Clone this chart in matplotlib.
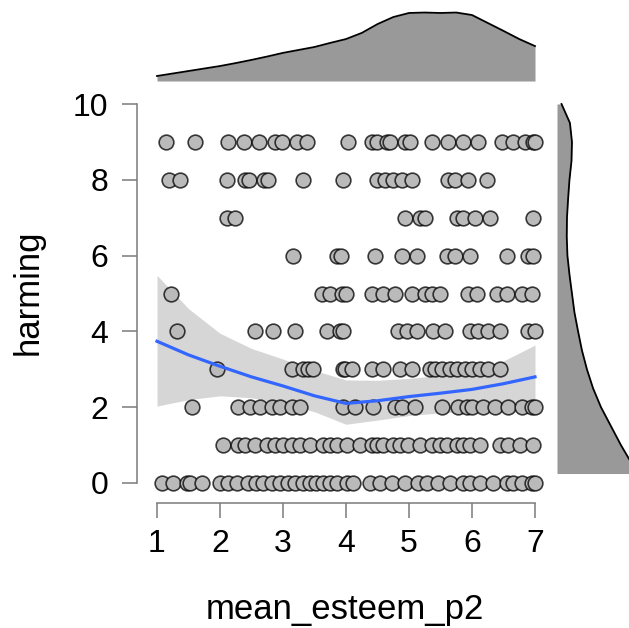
import matplotlib
matplotlib.use("Agg")
import matplotlib.pyplot as plt
import numpy as np

# mean_esteem_p2 values for each level of harming
esteem_h0 = [1.08, 1.25, 1.48, 1.52, 1.71, 2.00, 2.13, 2.27, 2.44, 2.57, 2.68, 2.83,
             2.95, 3.08, 3.19, 3.32, 3.43, 3.52, 3.63, 3.75, 3.86, 4.02, 4.11, 4.38,
             4.54, 4.73, 4.94, 5.14, 5.29, 5.46, 5.65, 5.86, 5.97, 6.13, 6.33, 6.56,
             6.65, 6.79, 6.95, 7.00]
esteem_h1 = [2.05, 2.29, 2.40, 2.56, 2.75, 2.87, 3.00, 3.14, 3.27, 3.43, 3.63, 3.75,
             3.86, 4.02, 4.22, 4.41, 4.49, 4.59, 4.75, 4.86, 4.98, 5.17, 5.37, 5.49,
             5.60, 5.76, 5.86, 5.97, 6.13, 6.44, 6.57, 6.76, 6.97]
esteem_h2 = [1.56, 2.29, 2.48, 2.63, 2.83, 2.95, 3.14, 3.27, 3.95, 4.14, 4.43, 4.78,
             4.89, 5.10, 5.52, 5.78, 5.92, 6.00, 6.17, 6.37, 6.57, 6.79, 6.95, 7.00]
esteem_h3 = [1.95, 3.14, 3.32, 3.40, 3.48, 3.95, 3.98, 4.10, 4.41, 4.59, 4.86, 5.05,
             5.33, 5.41, 5.52, 5.65, 5.76, 5.89, 6.00, 6.13, 6.25, 6.44]
esteem_h4 = [1.32, 2.56, 2.84, 3.19, 3.70, 3.90, 3.95, 4.83, 4.97, 5.13, 5.38, 5.57,
             5.97, 6.10, 6.25, 6.44, 6.89, 7.00]
esteem_h5 = [1.22, 3.62, 3.75, 3.94, 4.00, 4.41, 4.59, 4.78, 5.05, 5.25, 5.37, 5.49,
             5.94, 6.08, 6.40, 6.56, 6.79, 6.95]
esteem_h6 = [3.16, 3.86, 3.92, 4.46, 4.89, 5.13, 5.60, 5.73, 5.97, 6.56, 6.89, 6.97]
esteem_h7 = [2.11, 2.24, 4.94, 5.17, 5.25, 5.76, 5.86, 6.05, 6.29, 6.97]
esteem_h8 = [1.19, 1.37, 2.11, 2.40, 2.46, 2.70, 2.76, 3.32, 3.95, 4.49, 4.62, 4.75,
             4.89, 5.05, 5.62, 5.73, 5.94, 6.24]
esteem_h9 = [1.14, 1.60, 2.13, 2.38, 2.62, 2.87, 2.98, 3.22, 3.38, 4.03, 4.41, 4.49,
             4.65, 4.70, 4.94, 5.02, 5.37, 5.62, 5.86, 6.10, 6.48, 6.65, 6.84, 6.97, 7.00]
harming_levels = [0, 1, 2, 3, 4, 5, 6, 7, 8, 9]

# smoother and its confidence band
smooth_x = [1.0, 1.5, 2.0, 2.5, 3.0, 3.5, 4.0, 4.5, 5.0, 5.5, 6.0, 6.5, 7.0]
smooth_y = [3.74, 3.38, 3.08, 2.80, 2.56, 2.30, 2.10, 2.17, 2.28, 2.37, 2.47, 2.62, 2.80]
smooth_hi = [5.48, 4.60, 3.95, 3.55, 3.27, 2.97, 2.72, 2.71, 2.76, 2.84, 2.96, 3.22, 3.64]
smooth_lo = [2.03, 2.20, 2.30, 2.25, 2.10, 1.88, 1.55, 1.66, 1.78, 1.85, 1.90, 1.92, 1.95]

# marginal densities
dens_x_grid = [1.0, 1.25, 1.5, 1.75, 2.0, 2.25, 2.5, 2.75, 3.0, 3.25, 3.5, 3.75, 4.0,
               4.25, 4.5, 4.75, 5.0, 5.25, 5.5, 5.75, 6.0, 6.25, 6.5, 6.75, 7.0]
dens_x = [0.022, 0.033, 0.044, 0.055, 0.066, 0.079, 0.093, 0.108, 0.124, 0.137, 0.150,
          0.168, 0.185, 0.212, 0.251, 0.282, 0.300, 0.302, 0.300, 0.302, 0.291, 0.256,
          0.221, 0.185, 0.154]
dens_y_grid = [10, 9.5, 9, 8.5, 8, 7.5, 7, 6.5, 6, 5.5, 5, 4.5, 4, 3.5, 3, 2.5, 2,
               1.5, 1, 0.5, 0.25]
dens_y = [0.020, 0.057, 0.066, 0.064, 0.055, 0.049, 0.044, 0.043, 0.046, 0.055, 0.066,
          0.077, 0.093, 0.110, 0.132, 0.159, 0.194, 0.238, 0.282, 0.331, 0.353]

all_rows = [esteem_h0, esteem_h1, esteem_h2, esteem_h3, esteem_h4,
            esteem_h5, esteem_h6, esteem_h7, esteem_h8, esteem_h9]
pts_x = np.concatenate([np.array(r) for r in all_rows])
pts_y = np.concatenate([np.full(len(r), h) for r, h in zip(all_rows, harming_levels)])

plt.rcParams['font.family'] = ['Liberation Sans', 'DejaVu Sans']

W, H = 629, 628
fig = plt.figure(figsize=(W / 100, H / 100), dpi=100)

def px_rect(left, top, right, bottom):
    return [left / W, 1 - bottom / H, (right - left) / W, (bottom - top) / H]

xlim = (1 + (145 - 157) / 63, 1 + (547 - 157) / 63)
ylim = ((483 - 492) / 37.9, (483 - 95) / 37.9)

ax = fig.add_axes(px_rect(145, 95, 547, 492))
ax.fill_between(smooth_x, smooth_lo, smooth_hi, color='#d6d6d6', lw=0, zorder=1)
ax.scatter(pts_x, pts_y, s=112, facecolor='#bababa', edgecolor=(0, 0, 0, 0.75),
           linewidth=1.2, zorder=2)
ax.plot(smooth_x, smooth_y, color='#3366ff', lw=2.3, zorder=3)
ax.set_xlim(xlim)
ax.set_ylim(ylim)
ax.set_xticks(range(1, 8))
ax.set_yticks(range(0, 11, 2))
for s in ['top', 'right']:
    ax.spines[s].set_visible(False)
ax.spines['left'].set_position(('outward', 5.8))
ax.spines['bottom'].set_position(('outward', 7.9))
ax.spines['left'].set_bounds(0, 10)
ax.spines['bottom'].set_bounds(1, 7)
for s in ['left', 'bottom']:
    ax.spines[s].set_color('#7a7a7a')
    ax.spines[s].set_linewidth(1.1)
ax.tick_params(axis='both', length=10.8, width=1.1, color='#7a7a7a', labelsize=23)
ax.tick_params(axis='x', pad=8)
ax.tick_params(axis='y', pad=10)
ax.patch.set_alpha(0)

fig.text(28 / W, 1 - 292 / H, 'harming', rotation=90, ha='center', va='center', fontsize=25)
fig.text(345 / W, 1 - 619 / H, 'mean_esteem_p2', ha='center', va='baseline', fontsize=25)

# top marginal
axt = fig.add_axes(px_rect(145, 5, 547, 81))
axt.fill_between(dens_x_grid, 0, dens_x, color='#999999', lw=0)
axt.plot(dens_x_grid, dens_x, color='black', lw=1.3)
axt.set_xlim(xlim)
axt.set_ylim(0, 76 / 226.7)
axt.axis('off')

# right marginal (runs off the figure edge)
axr = fig.add_axes(px_rect(557, 95, 700, 492))
axr.fill_betweenx(dens_y_grid, 0, dens_y, color='#999999', lw=0)
axr.plot(dens_y, dens_y_grid, color='black', lw=1.3)
axr.set_ylim(ylim)
axr.set_xlim(0, 143 / 226.7)
axr.axis('off')

fig.savefig('out.png', dpi=100)
